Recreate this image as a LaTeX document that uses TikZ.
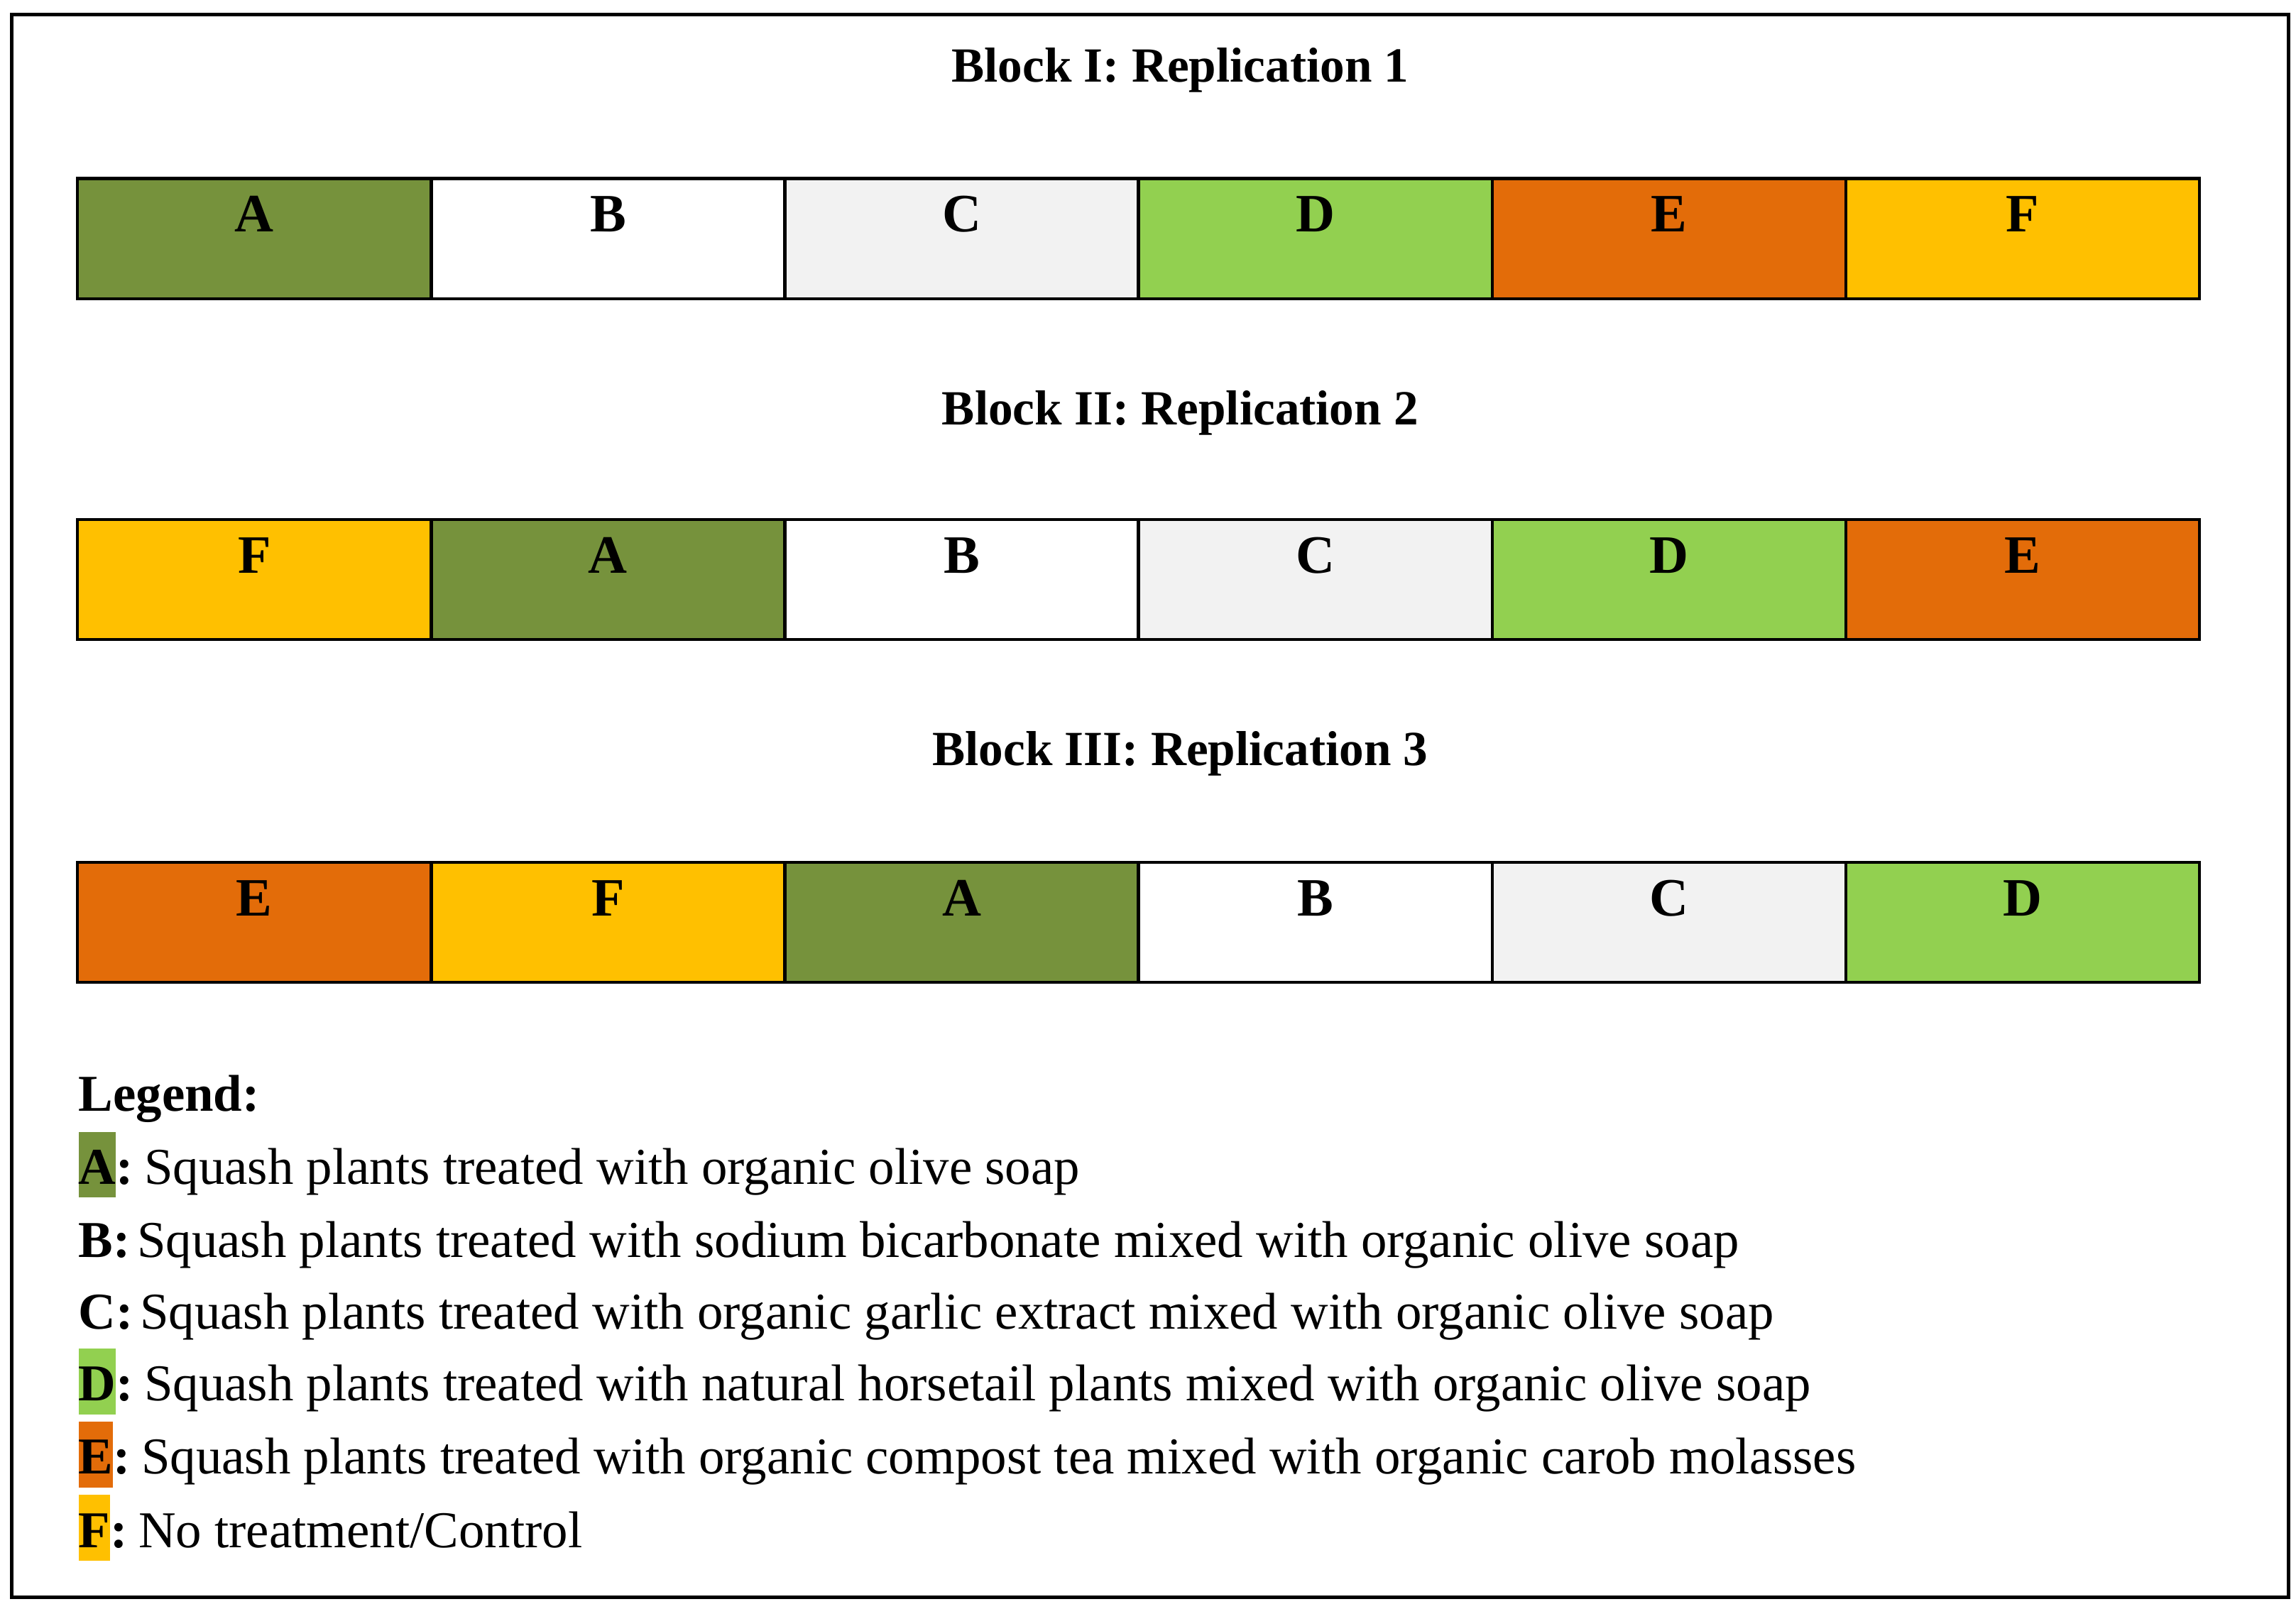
\documentclass[tikz,border=0pt]{standalone}
\usepackage{fontspec}
\setmainfont{Liberation Serif}
\usetikzlibrary{positioning}
\definecolor{trtA}{RGB}{118,146,60}
\definecolor{trtB}{RGB}{255,255,255}
\definecolor{trtC}{RGB}{242,242,242}
\definecolor{trtD}{RGB}{146,208,80}
\definecolor{trtE}{RGB}{227,108,9}
\definecolor{trtF}{RGB}{255,192,0}
\newcommand{\legkey}[2]{{\setlength{\fboxsep}{0pt}\colorbox{#1}{\rule[-2.6pt]{0pt}{12.8pt}\textbf{#2}}}\textbf{:}\kern-1.2pt\relax}
\newcommand{\legplain}[1]{\textbf{#1:}\kern-1.2pt\relax}

\begin{document}
\begin{tikzpicture}[
	plot/.style={draw=black,line width=0.6pt,rectangle,minimum width=2.415cm,inner xsep=0pt,inner ysep=0pt,
		text height=0.365cm,text depth=0.455cm,font=\fontsize{10.5}{12}\selectfont\bfseries},
	blocktitle/.style={anchor=base,font=\fontsize{9.55}{12}\selectfont\bfseries},
	legtext/.style={anchor=base west,inner sep=0pt,font=\fontsize{10.05}{12}\selectfont}
	]
			\useasboundingbox (0,0) rectangle (15.68,10.99);
			\draw[line width=0.7pt] (0.08,0.08) rectangle (15.63,10.89);

			% block titles
			\node[blocktitle] (t1) at (8.06,10.43) {Block I: Replication 1};
			\node[blocktitle] (t2) at (8.06,8.09) {Block II: Replication 2};
			\node[blocktitle] (t3) at (8.06,5.76) {Block III: Replication 3};

			% plots of each block
			\foreach \row/\yy/\seq in {1/9.36/{A,B,C,D,E,F},2/7.03/{F,A,B,C,D,E},3/4.69/{E,F,A,B,C,D}}{
				\foreach \t [count=\i] in \seq{
					\node[plot,fill=trt\t] (b\row-\i) at ({0.53+2.415*(\i-0.5)},\yy) {\t};
				}
			}

			% legend
			\node[legtext] (leg) at (0.53,3.40) {\textbf{Legend:}};
			\node[legtext] (legA) at (0.53,2.90) {\legkey{trtA}{A} Squash plants treated with organic olive soap};
			\node[legtext] (legB) at (0.53,2.40) {\legplain{B} Squash plants treated with sodium bicarbonate mixed with organic olive soap};
			\node[legtext] (legC) at (0.53,1.91) {\legplain{C} Squash plants treated with organic garlic extract mixed with organic olive soap};
			\node[legtext] (legD) at (0.53,1.42) {\legkey{trtD}{D} Squash plants treated with natural horsetail plants mixed with organic olive soap};
			\node[legtext] (legE) at (0.53,0.92) {\legkey{trtE}{E} Squash plants treated with organic compost tea mixed with organic carob molasses};
			\node[legtext] (legF) at (0.53,0.42) {\legkey{trtF}{F} No treatment/Control};
		\end{tikzpicture}
\end{document}
